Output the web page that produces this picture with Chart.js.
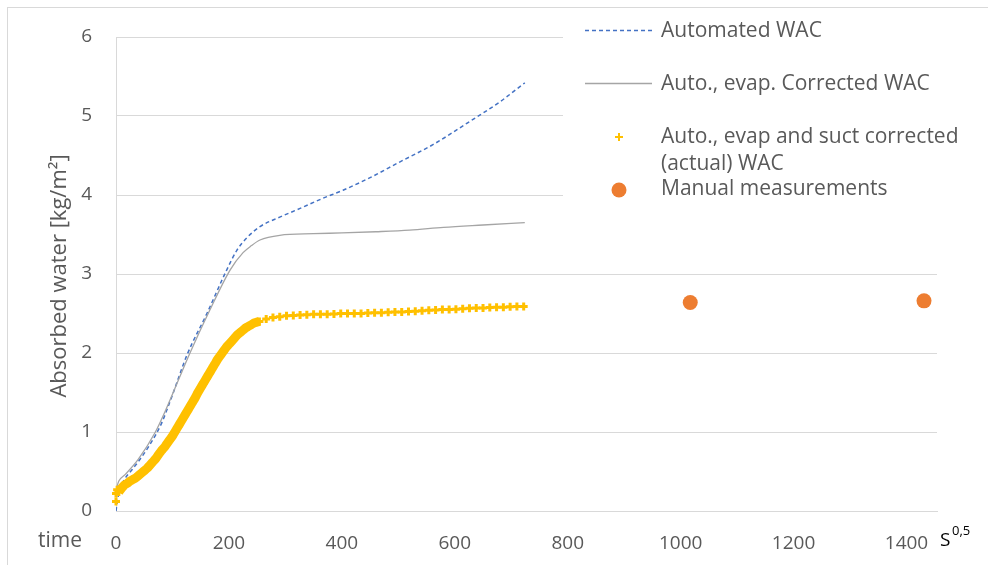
<!DOCTYPE html>
<html>
<head>
<meta charset="utf-8">
<script src="https://cdn.jsdelivr.net/npm/chart.js@4.4.0/dist/chart.umd.min.js"></script>
<style>
  body { margin: 0; background: #fff; }
  canvas { display: block; }
</style>
</head>
<body>
<canvas id="chart" width="988" height="565"></canvas>
<script>
// tick labels
const xTickValues = [0, 200, 400, 600, 800, 1000, 1200, 1400];
const yTickValues = [0, 1, 2, 3, 4, 5, 6];

// Automated WAC (blue dashed)
const autoX = [0, 3, 7, 15, 28, 39, 60, 80, 100, 126, 161, 196, 214, 232, 255, 290, 326, 367, 402, 450, 503, 562, 622, 680, 724];
const autoY = [0, 0.15, 0.27, 0.40, 0.52, 0.62, 0.84, 1.10, 1.47, 1.98, 2.50, 3.05, 3.30, 3.46, 3.60, 3.72, 3.83, 3.96, 4.06, 4.22, 4.42, 4.64, 4.91, 5.18, 5.42];

// Auto., evap. corrected WAC (grey)
const evapX = [0, 5, 16, 39, 69, 90, 113, 131, 166, 202, 225, 240, 255, 290, 350, 400, 460, 520, 580, 650, 724];
const evapY = [0.27, 0.38, 0.46, 0.65, 0.99, 1.31, 1.70, 2.00, 2.54, 3.05, 3.27, 3.36, 3.43, 3.49, 3.51, 3.52, 3.535, 3.555, 3.59, 3.62, 3.65];

// Auto., evap and suct corrected (actual) WAC (yellow crosses)
const actualX = [0, 0, 2,
  5, 10, 15, 20, 25, 30, 35, 40, 45, 50, 55, 60, 65, 70, 75, 80, 85, 90, 95, 100,
  105, 110, 115, 120, 125, 130, 135, 140, 145, 150, 155, 160, 165, 170, 175, 180, 185, 190, 195, 200,
  205, 210, 215, 220, 225, 230, 235, 240, 245,
  254, 266, 278, 290, 302, 314, 326, 338, 350, 362, 374, 386, 398, 410, 422, 434, 446, 458, 470, 482,
  494, 506, 518, 530, 542, 554, 566, 578, 590, 602, 614, 626, 638, 650, 662, 674, 686, 698, 710, 722];
const actualY = [0.12, 0.22, 0.27,
  0.24, 0.29, 0.33, 0.35, 0.38, 0.40, 0.42, 0.45, 0.48, 0.51, 0.54, 0.58, 0.62, 0.66, 0.71, 0.76, 0.80, 0.85, 0.90, 0.95,
  1.01, 1.07, 1.13, 1.19, 1.25, 1.31, 1.37, 1.43, 1.50, 1.56, 1.62, 1.68, 1.74, 1.80, 1.86, 1.92, 1.97, 2.02, 2.07, 2.11,
  2.15, 2.19, 2.23, 2.26, 2.29, 2.32, 2.34, 2.36, 2.38,
  2.40, 2.43, 2.45, 2.46, 2.47, 2.475, 2.48, 2.485, 2.49, 2.49, 2.49, 2.495, 2.50, 2.50, 2.50, 2.50, 2.505, 2.51, 2.51, 2.515,
  2.52, 2.52, 2.525, 2.53, 2.535, 2.54, 2.545, 2.55, 2.55, 2.555, 2.56, 2.565, 2.57, 2.57, 2.575, 2.58, 2.58, 2.585, 2.59, 2.59];

// Manual measurements (orange dots)
const manualX = [1017, 1431];
const manualY = [2.64, 2.66];

const toPoints = (xs, ys) => xs.map((x, i) => ({ x: x, y: ys[i] }));
// the densely sampled start of the actual WAC curve merges into a solid band
const bandPoints = toPoints(actualX, actualY).slice(3).filter(p => p.x <= 254);

const TEXT = '#595959';
const GRID = '#D9D9D9';
const FONT = '"Open Sans", sans-serif';

// frame, axis captions and the legend drawn on the canvas
const extras = {
  id: 'extras',
  beforeDraw(chart) {
    const ctx = chart.ctx;
    ctx.save();
    ctx.fillStyle = '#fff';
    ctx.fillRect(0, 0, chart.width, chart.height);
    ctx.strokeStyle = GRID;
    ctx.lineWidth = 1;
    ctx.strokeRect(7.5, 7.5, 2000, 2000);
    ctx.restore();
  },
  afterDraw(chart) {
    const ctx = chart.ctx;
    ctx.save();
    ctx.textBaseline = 'middle';

    // y title
    ctx.fillStyle = TEXT;
    ctx.font = '22px ' + FONT;
    ctx.save();
    ctx.translate(60, 276);
    ctx.rotate(-Math.PI / 2);
    ctx.textAlign = 'center';
    ctx.fillText('Absorbed water [kg/m²]', 0, 0);
    ctx.restore();

    // x captions
    ctx.font = '21px ' + FONT;
    ctx.textAlign = 'left';
    ctx.fillText('time', 38, 541);
    ctx.fillStyle = '#000';
    ctx.font = '19px ' + FONT;
    ctx.fillText('S', 940, 541);
    ctx.font = '13px ' + FONT;
    ctx.fillText('0,5', 952, 531);

    // legend
    ctx.fillStyle = '#fff';
    ctx.fillRect(563, 8, 425, 202);
    ctx.font = '21px ' + FONT;

    ctx.strokeStyle = '#4472C4';
    ctx.lineWidth = 1.5;
    ctx.setLineDash([4, 3]);
    ctx.beginPath(); ctx.moveTo(585, 30.5); ctx.lineTo(652, 30.5); ctx.stroke();
    ctx.setLineDash([]);

    ctx.strokeStyle = '#A5A5A5';
    ctx.lineWidth = 1.5;
    ctx.beginPath(); ctx.moveTo(585, 83.5); ctx.lineTo(652, 83.5); ctx.stroke();

    ctx.strokeStyle = '#FFC000';
    ctx.lineWidth = 2;
    ctx.beginPath();
    ctx.moveTo(615, 137); ctx.lineTo(623, 137);
    ctx.moveTo(619, 133); ctx.lineTo(619, 141);
    ctx.stroke();

    ctx.fillStyle = '#ED7D31';
    ctx.beginPath(); ctx.arc(619, 190, 7.5, 0, Math.PI * 2); ctx.fill();

    ctx.fillStyle = TEXT;
    ctx.fillText('Automated WAC', 661, 31);
    ctx.fillText('Auto., evap. Corrected WAC', 661, 84);
    ctx.fillText('Auto., evap and suct corrected', 661, 137);
    ctx.fillText('(actual) WAC', 661, 164);
    ctx.fillText('Manual measurements', 661, 189);
    ctx.restore();
  }
};

new Chart(document.getElementById('chart').getContext('2d'), {
  type: 'scatter',
  data: {
    datasets: [
      {
        label: 'Auto., evap and suct corrected (actual) WAC',
        data: toPoints(actualX, actualY),
        pointStyle: 'cross',
        pointRadius: 4,
        pointBorderWidth: 3,
        borderColor: '#FFC000',
        backgroundColor: '#FFC000',
        showLine: false,
        clip: false,
        order: 0
      },
      {
        label: 'band',
        data: bandPoints,
        showLine: true,
        borderColor: '#FFC000',
        borderWidth: 9,
        pointRadius: 0,
        cubicInterpolationMode: 'monotone',
        order: 0
      },
      {
        label: 'Automated WAC',
        data: toPoints(autoX, autoY),
        showLine: true,
        borderColor: '#4472C4',
        borderWidth: 1.5,
        borderDash: [4, 3],
        pointRadius: 0,
        cubicInterpolationMode: 'monotone',
        order: 2
      },
      {
        label: 'Auto., evap. Corrected WAC',
        data: toPoints(evapX, evapY),
        showLine: true,
        borderColor: '#A5A5A5',
        borderWidth: 1.3,
        pointRadius: 0,
        cubicInterpolationMode: 'monotone',
        order: 1
      },
      {
        label: 'Manual measurements',
        data: toPoints(manualX, manualY),
        pointStyle: 'circle',
        pointRadius: 7.5,
        borderWidth: 0,
        backgroundColor: '#ED7D31',
        borderColor: '#ED7D31',
        order: 0
      }
    ]
  },
  options: {
    responsive: false,
    animation: false,
    layout: { padding: { top: 37, right: 51, left: 0, bottom: 0 } },
    plugins: {
      legend: { display: false },
      tooltip: { enabled: false }
    },
    scales: {
      x: {
        type: 'linear',
        min: 0,
        max: 1454,
        afterBuildTicks: s => { s.ticks = xTickValues.map(v => ({ value: v })); },
        afterFit: s => { s.height = 54; },
        grid: { display: false, drawTicks: false },
        border: { display: true, color: GRID },
        ticks: {
          color: TEXT,
          font: { family: FONT, size: 19 },
          padding: 21,
          maxRotation: 0,
          autoSkip: false,
          callback: v => String(v)
        }
      },
      y: {
        min: 0,
        max: 6,
        afterBuildTicks: s => { s.ticks = yTickValues.map(v => ({ value: v })); },
        afterFit: s => { s.width = 116; },
        grid: { color: GRID, drawTicks: false },
        border: { display: true, color: GRID },
        ticks: {
          color: TEXT,
          font: { family: FONT, size: 19 },
          padding: 24,
          callback: v => String(v)
        }
      }
    }
  },
  plugins: [extras]
});
</script>
</body>
</html>
